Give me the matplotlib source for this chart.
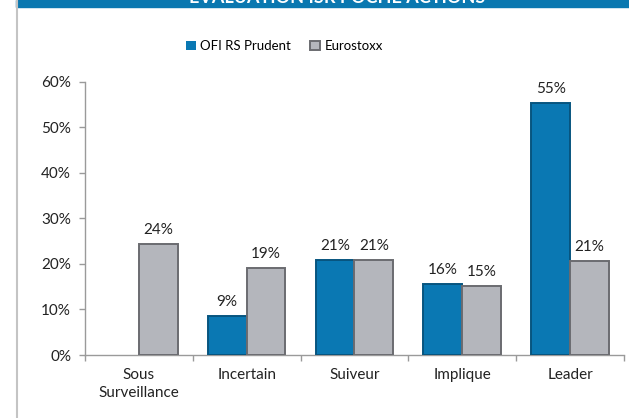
import numpy as np
import matplotlib
matplotlib.use("Agg")
import matplotlib.pyplot as plt

plt.rcParams['font.family'] = ['Lato', 'DejaVu Sans']

categories = ["Sous\nSurveillance", "Incertain", "Suiveur", "Implique", "Leader"]
fund = [0.0, 8.6, 20.9, 15.6, 55.4]
index = [24.4, 19.1, 20.9, 15.2, 20.6]
series_names = ["OFI RS Prudent", "Eurostoxx"]
yticks = [0, 10, 20, 30, 40, 50, 60]

blue = "#0a78b3"
blue_edge = "#07557f"
grey = "#b4b6bc"
grey_edge = "#6a6b70"

fig = plt.figure(figsize=(6.29, 4.18), dpi=100)
ax = fig.add_axes([0.135, 0.1507, 0.857, 0.6533])

x = np.arange(len(categories))
w = 0.36
b1 = ax.bar(x - w / 2, fund, w, color=blue, edgecolor=blue_edge,
            linewidth=[0 if v == 0 else 1.4 for v in fund],
            label=series_names[0], zorder=3)
b2 = ax.bar(x + w / 2, index, w, color=grey, edgecolor=grey_edge,
            linewidth=[0 if v == 0 else 1.4 for v in index],
            label=series_names[1], zorder=3)

# labels above bars (no label for empty bar)
ax.bar_label(b1, labels=["" if v == 0 else "{:.0f}%".format(v) for v in fund],
             padding=5, fontsize=11, color="#222222")
ax.bar_label(b2, labels=["{:.0f}%".format(v) for v in index],
             padding=5, fontsize=11, color="#222222")

ax.set_xlim(-0.5, len(categories) - 0.5)
ax.set_ylim(0, 60)
ax.set_yticks(yticks)
ax.set_yticklabels(["{}%".format(t) for t in yticks])
ax.set_xticks(x)
ax.set_xticklabels(categories, linespacing=1.4)
ax.set_xticks(np.arange(len(categories) + 1) - 0.5, minor=True)
ax.tick_params(axis="x", which="major", length=0, pad=9, labelsize=11, colors="#222222")
ax.tick_params(axis="x", which="minor", length=4, width=1, color="#9a9a9a")
ax.tick_params(axis="y", length=4, width=1, color="#9a9a9a", pad=6, labelsize=11,
               labelcolor="#222222")

for s in ["top", "right"]:
    ax.spines[s].set_visible(False)
for s in ["left", "bottom"]:
    ax.spines[s].set_color("#9a9a9a")
    ax.spines[s].set_linewidth(1)

fig.legend(loc="center", bbox_to_anchor=(0.452, 0.89), ncol=2, frameon=False,
           fontsize=9.5, handlelength=0.75, handleheight=0.75, handletextpad=0.35,
           columnspacing=1.4)

# header band and left frame line
fig.patches.append(plt.Rectangle((16 / 629, 1 - 7 / 418), 1, 7 / 418,
                                 transform=fig.transFigure, color="#0a78b0", zorder=0))
fig.lines.append(plt.Line2D([17 / 629, 17 / 629], [0, 1], transform=fig.transFigure,
                            color="#c4c4c4", linewidth=1.5))
fig.text(0.536, 1 - 3 / 418, "EVALUATION ISR POCHE ACTIONS", ha="center", va="baseline",
         color="white", fontsize=13, fontweight="bold")

fig.savefig("out.png", dpi=100)
